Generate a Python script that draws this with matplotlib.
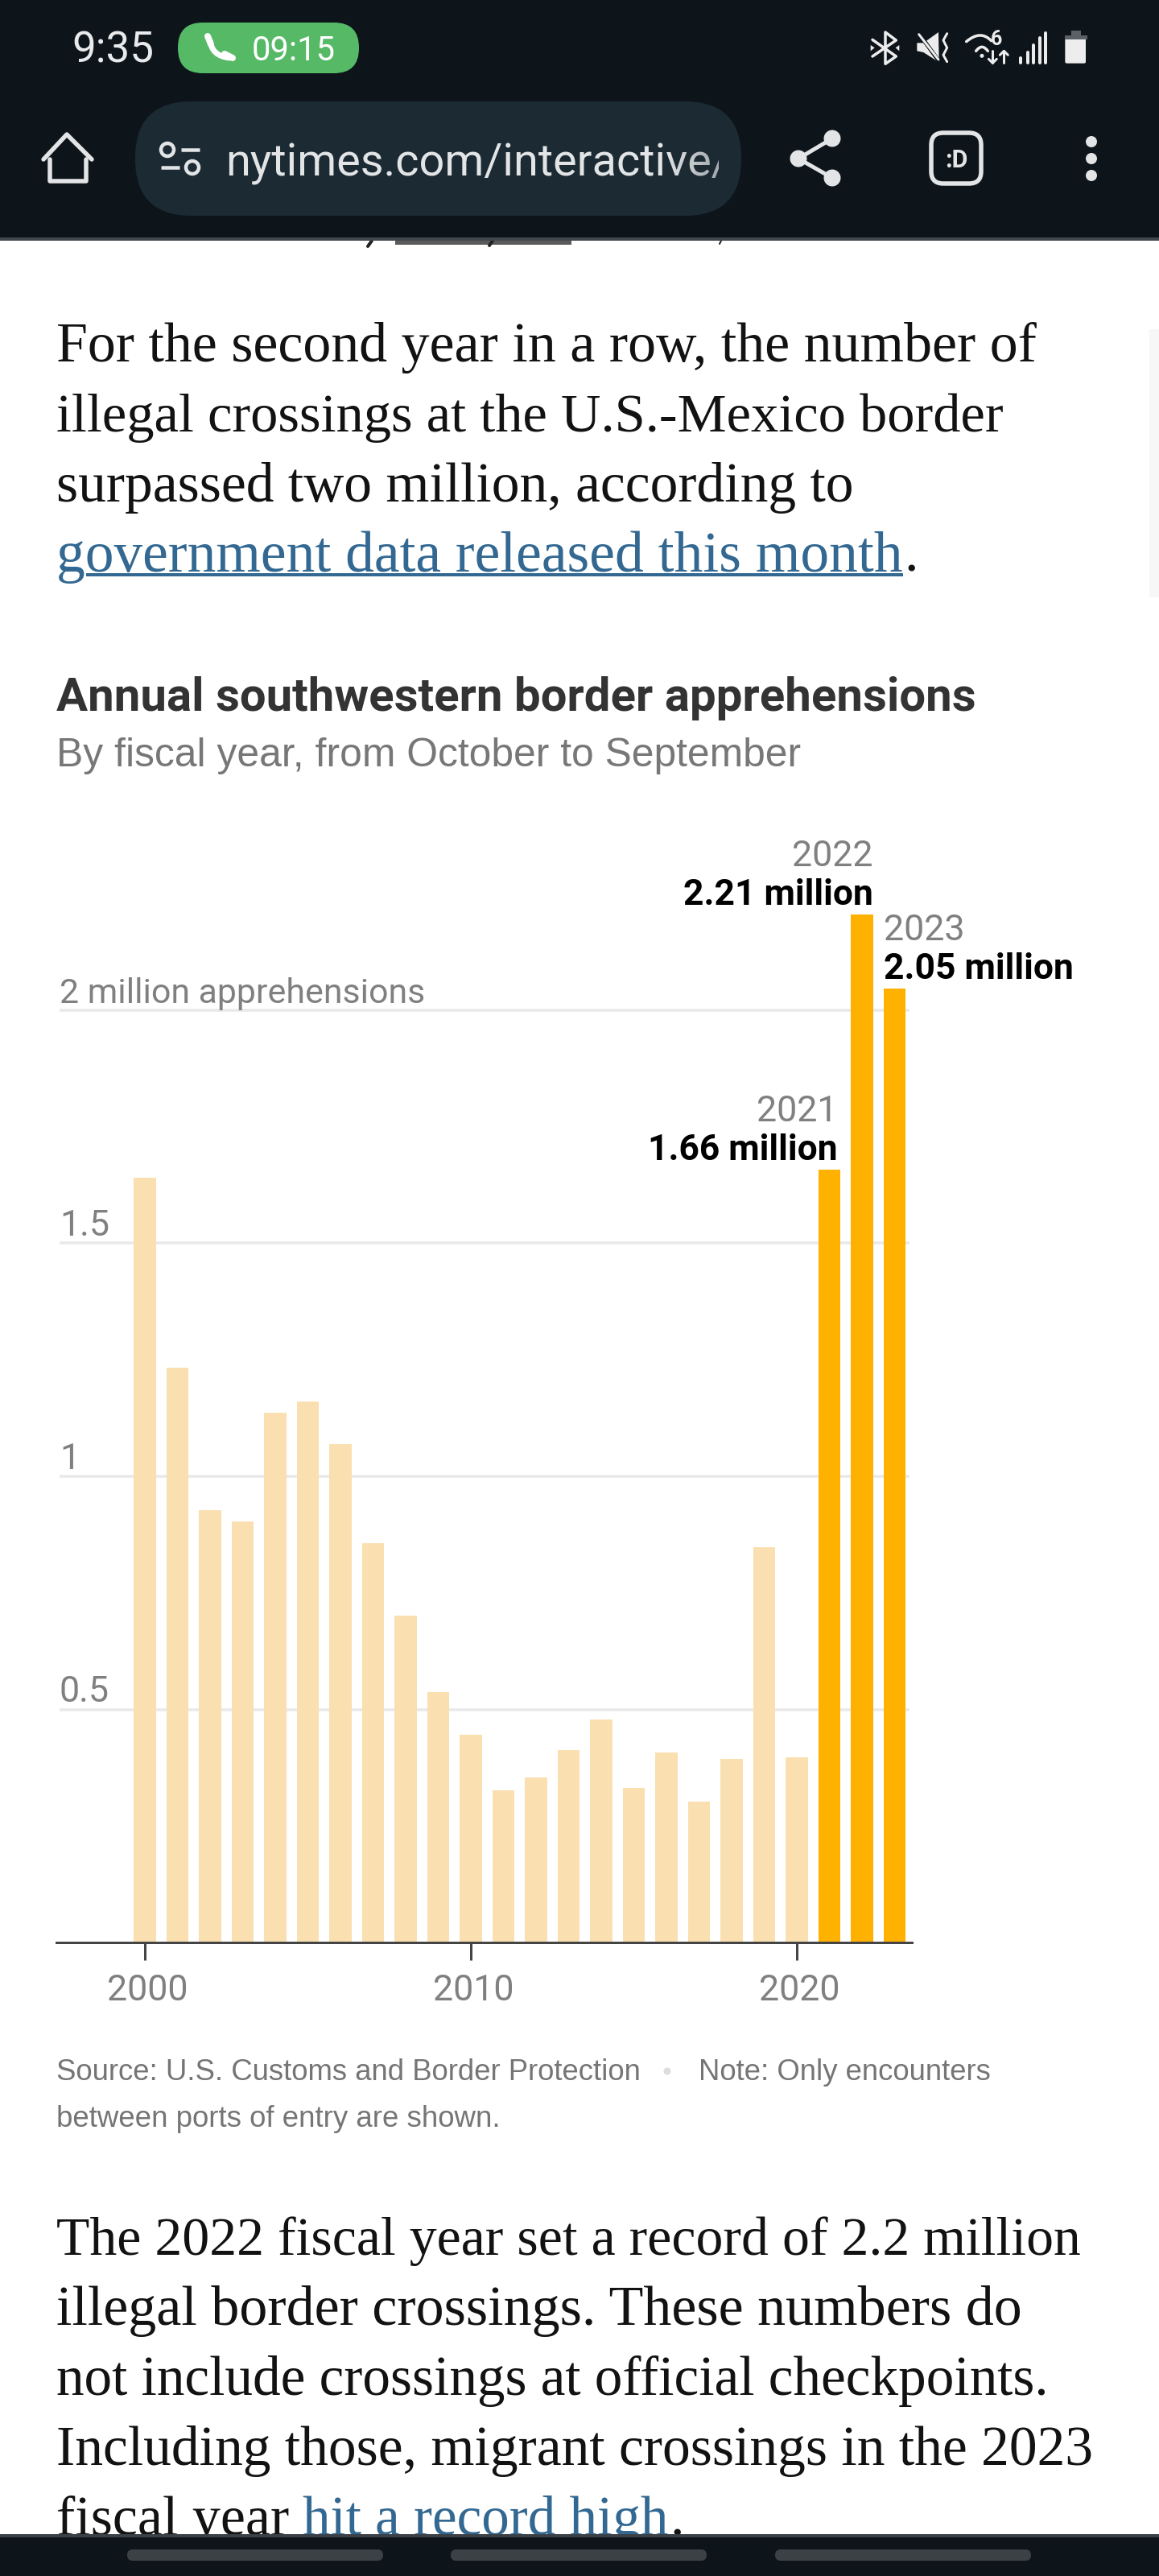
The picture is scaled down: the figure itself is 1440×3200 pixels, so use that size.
import matplotlib
matplotlib.use("Agg")
import matplotlib.pyplot as plt
from matplotlib.patches import Rectangle, FancyBboxPatch, Circle, Polygon, PathPatch
from matplotlib.path import Path
from matplotlib.transforms import Bbox, TransformedBbox, ScaledTranslation

# ------------------ data ------------------
years_past = list(range(2000, 2021))
values_past = [1.641, 1.233, 0.927, 0.904, 1.137, 1.160, 1.069, 0.856, 0.702, 0.537,
               0.445, 0.326, 0.354, 0.413, 0.478, 0.331, 0.407, 0.302, 0.393, 0.848, 0.397]
years_recent = [2021, 2022, 2023]
values_recent = [1.658, 2.205, 2.046]
recent_labels = ["1.66 million", "2.21 million", "2.05 million"]
y_ticks = [0.5, 1, 1.5, 2]
y_tick_labels = ["0.5", "1", "1.5", "2 million apprehensions"]
x_ticks = [2000, 2010, 2020]
x_tick_labels = ["2000", "2010", "2020"]

title = "Annual southwestern border apprehensions"
subtitle = "By fiscal year, from October to September"
source_a = "Source: U.S. Customs and Border Protection"
source_b = "Note: Only encounters"
source_c = "between ports of entry are shown."
para_1 = ["For the second year in a row, the number of",
          "illegal crossings at the U.S.-Mexico border",
          "surpassed two million, according to"]
para_1_widths = [1219, 1178, 991]
para_1_link = "government data released this month"
para_2 = ["The 2022 fiscal year set a record of 2.2 million",
          "illegal border crossings. These numbers do",
          "not include crossings at official checkpoints.",
          "Including those, migrant crossings in the 2023"]
para_2_widths = [1273, 1202, 1232, 1289]
para_2_tail = "fiscal year "
para_2_link = "hit a record high"

# ------------------ colours / fonts ------------------
W, H = 1440, 3200
DARK = "#0d141a"
ICON = "#e2e4e6"
PALE = "#fadfb0"
GOLD = "#ffb100"
SERIF = "Liberation Serif"
SANS = "Liberation Sans"
NUM = "Roboto"

fig = plt.figure(figsize=(W / 100, H / 100), dpi=100, facecolor="white")
bg = fig.add_axes([0, 0, 1, 1], zorder=0)
bg.set_xlim(0, W)
bg.set_ylim(H, 0)
bg.axis("off")
renderer = fig.canvas.get_renderer()


def size_for(s, width, **kw):
    t = bg.text(0, 0, s, fontsize=50, **kw)
    w = t.get_window_extent(renderer).width
    t.remove()
    return 50 * width / w


def T(x, y, s, size, family=SANS, color="#333333", weight="normal", ha="left", z=5, **kw):
    return bg.text(x, y, s, fontsize=size, family=family, color=color, weight=weight,
                   ha=ha, va="baseline", zorder=z, **kw)


def px(p):
    return p * 0.72


def line(xs, ys, w=5, c=ICON, z=12, cap="round"):
    bg.plot(xs, ys, color=c, lw=px(w), solid_capstyle=cap, solid_joinstyle="round", zorder=z)


# ------------------ chart ------------------
LEFT, RIGHT, BASE, TOP = 70, 1133, 2413, 1080
PX_YEAR, PX_MILLION = 40.5, 579.0
ax = fig.add_axes([LEFT / W, 1 - BASE / H, (RIGHT - LEFT) / W, (BASE - TOP) / H], zorder=2)
ax.patch.set_alpha(0)
ax.set_xlim(2000 - (180 - LEFT) / PX_YEAR, 2000 + (RIGHT - 180) / PX_YEAR)
ax.set_ylim(0, (BASE - TOP) / PX_MILLION)
ax.bar(years_past, values_past, width=27.5 / PX_YEAR, color=PALE, zorder=3)
ax.bar(years_recent, values_recent, width=27.5 / PX_YEAR, color=GOLD, zorder=3)
ax.hlines(y_ticks, 0.004, 0.997, transform=ax.get_yaxis_transform(), color="#e9e9e9", lw=px(3.5), zorder=1)

for s in ("top", "left", "right"):
    ax.spines[s].set_visible(False)
ax.spines["bottom"].set_color("#444444")
ax.spines["bottom"].set_linewidth(px(3))
ax.spines["bottom"].set_zorder(4)

year_size = size_for("2000", 101, family=NUM)
unit_size = size_for(y_tick_labels[-1], 454, family=NUM)
bold_size = size_for("2.21 million", 236, family=NUM, weight="bold")
axis_grey = "#808080"

ax.set_yticks(y_ticks)
ax.set_yticklabels(y_tick_labels, family=NUM, fontsize=year_size, color=axis_grey)
ax.tick_params(axis="y", length=0, pad=px(-4))
for lab in ax.get_yticklabels():
    lab.set_ha("left")
    lab.set_va("baseline")
    lab.set_transform(lab.get_transform() + ScaledTranslation(0, 9 / 100, fig.dpi_scale_trans))
ax.get_yticklabels()[-1].set_fontsize(unit_size)

ax.set_xticks(x_ticks)
ax.set_xticklabels(x_tick_labels, family=NUM, fontsize=year_size, color=axis_grey)
ax.tick_params(axis="x", length=px(22), width=px(3), color="#444444", pad=px(17))
for lab in ax.get_xticklabels():
    lab.set_transform(lab.get_transform() + ScaledTranslation(3 / 100, 0, fig.dpi_scale_trans))

label_pos = {2021: ("right", 10.5), 2022: ("right", 13.5), 2023: ("left", -13)}
for yr, val, lab in zip(years_recent, values_recent, recent_labels):
    ha, dx = label_pos[yr]
    ax.annotate(lab, (yr, val), xytext=(dx, 12), textcoords="offset pixels", ha=ha, va="baseline",
                family=NUM, weight="bold", fontsize=bold_size, color="black", annotation_clip=False)
    ax.annotate(str(yr), (yr, val), xytext=(dx, 60), textcoords="offset pixels", ha=ha, va="baseline",
                family=NUM, fontsize=year_size, color=axis_grey, annotation_clip=False)

# ------------------ article text ------------------
INK, LINK = "#121212", "#326891"
for i, (s, w) in enumerate(zip(para_1, para_1_widths)):
    T(70, 449 + 87 * i, s, size_for(s, w, family=SERIF), SERIF, INK)
T(70, 710, para_1_link, size_for(para_1_link, 1052, family=SERIF), SERIF, LINK)
base_size = size_for(para_1[0], 1219, family=SERIF)
T(1123, 710, ".", base_size, SERIF, INK)
bg.add_patch(Rectangle((107, 712), 1015, 3.5, color=LINK, lw=0, zorder=5))

T(70, 883, title, size_for(title, 1141, family=NUM, weight="bold"), NUM, "#333333", "bold")
T(70, 952, subtitle, size_for(subtitle, 924, family=SANS), SANS, "#777777")

src_size = size_for(source_a, 726, family=SANS)
T(70, 2584, source_a, src_size, SANS, "#757575")
T(868, 2584, source_b, src_size, SANS, "#757575")
T(70, 2642, source_c, size_for(source_c, 552, family=SANS), SANS, "#757575")
bg.add_patch(Circle((829, 2573), 4.5, color="#dddddd", lw=0, zorder=5))

for i, (s, w) in enumerate(zip(para_2, para_2_widths)):
    T(70, 2801 + 87 * i, s, size_for(s, w, family=SERIF), SERIF, INK)
T(70, 3149, para_2_tail, base_size, SERIF, INK)
T(376, 3149, para_2_link, size_for(para_2_link, 455, family=SERIF), SERIF, LINK)
T(832, 3149, ".", base_size, SERIF, INK)

# fragments of the scrolled-away byline
bg.add_patch(Rectangle((491, 299), 219, 5, color="#5a5a5a", lw=0, zorder=5))
line([462, 457], [299, 306], 4, "#222222", 5)
line([612, 608], [299, 305], 4, "#222222", 5)
line([896, 894], [299, 303], 2, "#222222", 5)

# page scroll indicator
bg.add_patch(Rectangle((1428, 409), 12, 333, color="#f7f7f7", lw=0, zorder=1))

# ------------------ browser chrome ------------------
bg.add_patch(Rectangle((0, 0), W, 295, color=DARK, lw=0, zorder=10))
bg.add_patch(Rectangle((0, 295), W, 4, color="#41484e", lw=0, zorder=10))
bg.add_patch(Rectangle((0, 3148), W, 52, color=DARK, lw=0, zorder=10))
bg.add_patch(Rectangle((0, 3148), W, 4, color="#3a4046", lw=0, zorder=11))
for x0 in (158, 560, 963):
    bg.add_patch(FancyBboxPatch((x0 + 7, 3167 + 7), 318 - 14, 0.01,
                                boxstyle="round,pad=7", color="#3c4146", lw=0, zorder=12))

T(89, 78, "9:35", size_for("9:35", 102, family="Roboto"), "Roboto", "#e8eaec", z=12)
bg.add_patch(FancyBboxPatch((221 + 31, 28 + 31), 225 - 62, 1,
                            boxstyle="round,pad=31", color="#55b966", lw=0, zorder=11))
T(313, 75, "09:15", size_for("09:15", 104, family="Roboto"), "Roboto", "white", z=12)
# phone glyph
bg.add_patch(PathPatch(Path([(261, 50), (263, 70), (286, 72)], [Path.MOVETO, Path.CURVE3, Path.CURVE3]),
                       fc="none", ec="white", lw=px(7), zorder=12))
line([258, 262], [45, 55], 8, "white")
line([279, 289], [67, 72], 8, "white")

# home
line([54, 83, 114], [198, 167, 198], 5.5)
line([62, 62, 107, 107], [198, 225, 225, 198], 5.5)

# url pill
bg.add_patch(FancyBboxPatch((168 + 70, 127 + 69), 753 - 140, 2,
                            boxstyle="round,pad=70", color="#1b2a33", lw=0, zorder=11))
bg.add_patch(Circle((208, 186), 8, fc="none", ec=ICON, lw=px(4.5), zorder=12))
bg.add_patch(Circle((239, 208), 8, fc="none", ec=ICON, lw=px(4.5), zorder=12))
line([225, 248], [186, 186], 4.5, cap="butt")
line([200, 223], [208, 208], 4.5, cap="butt")
url = "nytimes.com/interactive/"
url_t = T(280, 218, url, size_for("nytimes.com/interactive", 604, family="Roboto"), "Roboto", ICON, z=12)
url_t.set_clip_box(TransformedBbox(Bbox([[270, 127], [893, 267]]), bg.transData))
url_t.set_clip_on(True)
for k in range(6):
    bg.add_patch(Rectangle((893 - 10 * (k + 1), 150), 10, 90, color="#1b2a33", alpha=0.05 * (6 - k),
                           lw=0, zorder=13))

# share
line([1034, 992, 1034], [172, 197, 221], 5)
for cx, cy in ((1034, 172), (992, 197), (1034, 221)):
    bg.add_patch(Circle((cx, cy), 10.5, color=ICON, lw=0, zorder=12))
# tab counter
bg.add_patch(FancyBboxPatch((1157 + 15, 165 + 15), 62 - 30, 63 - 30, boxstyle="round,pad=15",
                            fc="none", ec=ICON, lw=px(5.5), zorder=12))
T(1188, 208, ":D", 22, "Roboto", ICON, "bold", ha="center", z=12)
# overflow menu
for cy in (176, 197, 218):
    bg.add_patch(Circle((1356, cy), 7, color=ICON, lw=0, zorder=12))


# status icons, written in the coordinates of a 3x crop at (1060, 20)
def sx(v):
    return 1060 + v / 3


def sy(v):
    return 20 + v / 3


def sl(xs, ys, w=3, c="#ececec"):
    line([sx(v) for v in xs], [sy(v) for v in ys], w, c)


def sp(pts, c="#ececec"):
    bg.add_patch(Polygon([(sx(a), sy(b)) for a, b in pts], color=c, lw=0, zorder=12))


# bluetooth
sl([72, 160, 120, 120, 160, 72], [88, 150, 178, 60, 90, 150], 3.5)
sp([(65, 108), (80, 118), (65, 130)])
sp([(172, 108), (158, 118), (172, 130)])
# muted speaker
sp([(238, 100), (262, 100), (318, 60), (320, 172), (262, 135), (238, 130)])
sl([245, 325], [65, 175], 5, DARK)
sl([245, 318], [68, 162], 3)
sl([350, 336, 350, 336, 350], [65, 90, 118, 145, 170], 3)
# wifi
for pts in (((422, 95), (475, 50), (515, 92)), ((458, 130), (480, 100), (502, 130))):
    bg.add_patch(PathPatch(Path([(sx(a), sy(b)) for a, b in pts], [Path.MOVETO, Path.CURVE3, Path.CURVE3]),
                           fc="none", ec="#ececec", lw=px(3.5), capstyle="round", zorder=12))
bg.add_patch(Circle((sx(480), sy(148)), 2.5, color="#ececec", lw=0, zorder=12))
T(sx(535), sy(108), "6", 18, "Roboto", "#ececec", "bold", ha="center", z=12)
sl([520, 520], [130, 175], 3)
sl([505, 520, 535], [160, 175, 160], 3)
sl([562, 562], [175, 130], 3)
sl([547, 562, 577], [145, 130, 145], 3)
# signal
for bx, top in ((625, 155), (650, 135), (672, 108), (695, 82), (718, 62)):
    sl([bx, bx], [top, 175], 4)
# battery
bg.add_patch(FancyBboxPatch((sx(796), sy(78)), (873 - 796 - 12) / 3, (182 - 78 - 12) / 3,
                            boxstyle="round,pad=2", color="#ededed", lw=0, zorder=12))
bg.add_patch(Rectangle((sx(790), sy(72)), 83 / 3, 16 / 3, color="#5b6066", lw=0, zorder=13))
bg.add_patch(Rectangle((sx(812), sy(55)), 38 / 3, 17 / 3, color="#5b6066", lw=0, zorder=13))

fig.savefig("out.png", dpi=100, facecolor="white")
